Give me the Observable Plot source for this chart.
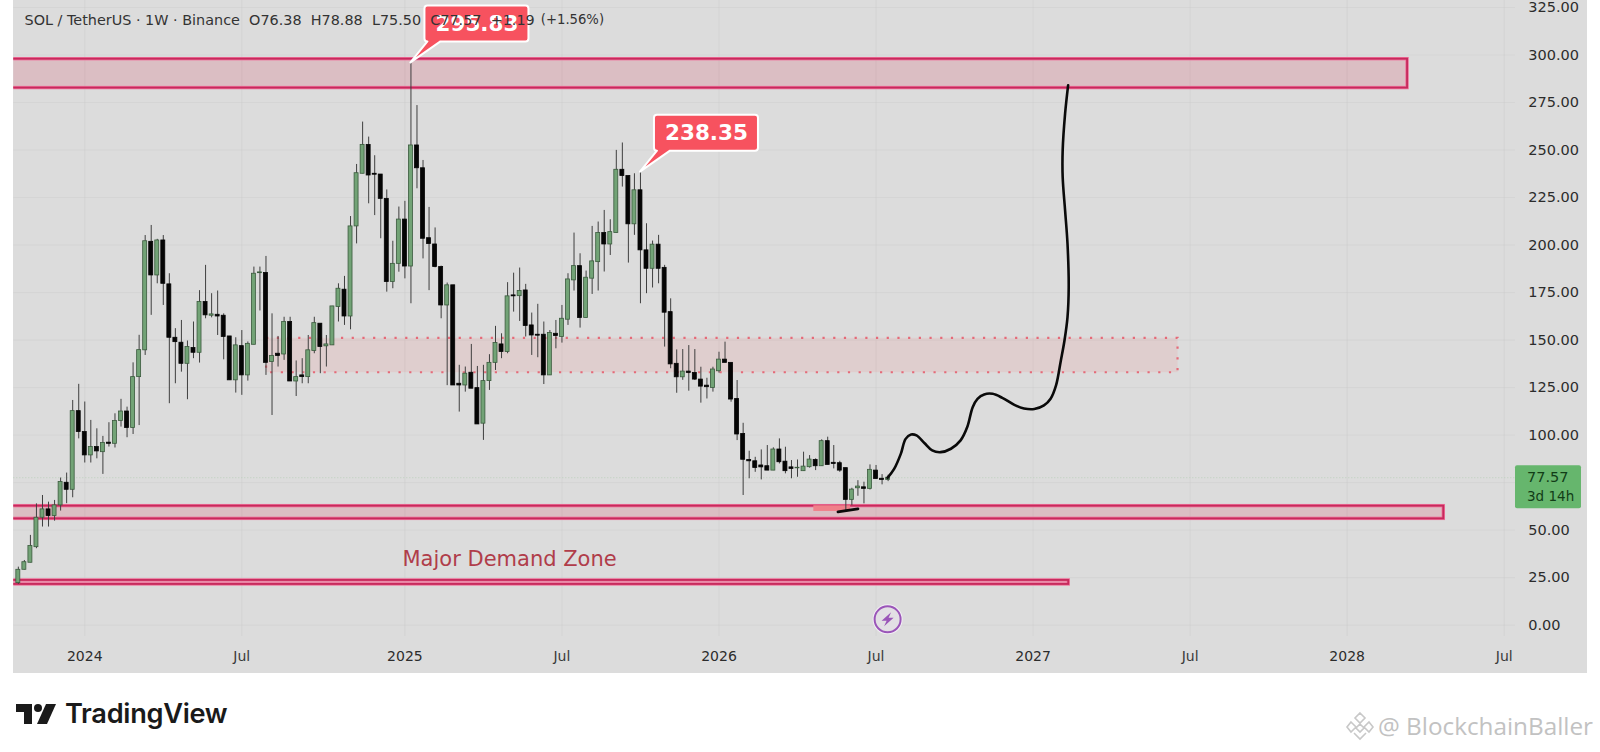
<!DOCTYPE html>
<html>
<head>
<meta charset="utf-8">
<script src="https://cdn.jsdelivr.net/npm/d3@7"></script>
<script src="https://cdn.jsdelivr.net/npm/@observablehq/plot@0.6"></script>
<style>
  html,body{margin:0;padding:0;background:#fff;overflow:hidden}
  #wrap{position:relative;width:1600px;height:752px;overflow:hidden}
  #panel{position:absolute;left:13.3px;top:0;width:1573.4px;height:673px;background:#dcdcdc}
  #chart{position:absolute;left:0;top:0}
  #brand{position:absolute;left:16px;top:697px;display:flex;align-items:center;gap:9px;font:600 27.2px Inter,sans-serif;color:#1a1a1a;letter-spacing:-.3px}
  #mark{position:absolute;left:1345px;top:709px;display:flex;align-items:center;gap:3px;font:24.3px "Open Sans",sans-serif;color:#c2c2c2;white-space:nowrap}
</style>
</head>
<body>
<div id="wrap">
  <div id="panel"></div>
  <div id="chart"></div>
  <div id="brand"><svg width="40" height="22" viewBox="0 0 40 22"><path d="M0 1h16v20H8V9H0z" fill="#1a1a1a"/><circle cx="22" cy="5" r="4" fill="#1a1a1a"/><path d="M30 1h10l-9 20H21z" fill="#1a1a1a"/></svg><span>TradingView</span></div>
  <div id="mark"><svg width="30" height="30" viewBox="0 0 30 30" fill="none" stroke="#c8c8c8" stroke-width="1.6"><path d="M15 2l5 5-5 5-5-5zM6 11l5 5-5 5-4-5zM24 11l4 5-4 5-5-5zM15 13l4 4-4 4-4-4zM9 22l6 6 6-6"/></svg><span>@ BlockchainBaller</span></div>
</div>
<script>
// Weekly candles, Monday bars; week 0 = 2024-01-01
const firstWeek = -11;
const candleOpen = [22.1,29.1,32.8,41,56.5,60.9,57.4,63,74.9,71.2,112.6,
101.6,89.3,93.7,91,96,95.4,107.4,112.4,103.7,130.5,144.6,201.7,184,202.4,179.3,151.2,148.6,137.5,145.8,143.3,170,162.8,163.3,162.8,151.9,128.8,146.8,131.4,147.5,185.2,185.3,138.4,142.8,142.4,159.5,128.2,131.4,130.5,144.2,158.6,146.7,147.2,167.4,176.5,162.4,209.8,237.5,252.7,237.5,237.1,224.3,180.5,190.1,213.4,188.7,252.4,240.4,203.6,200.3,188.4,168.2,178.8,127,126.1,132.8,124.7,106,128.4,138,147.7,143.7,173.5,173.1,176.1,157.7,152.8,152.8,131.4,153.3,151.6,160.7,181.4,188.9,161.6,182.3,191,206.3,200.3,206.3,239.6,236.3,210.9,228.8,197.2,187.5,200.2,188,164.7,137.5,130.4,133.4,132.7,129.2,126,124.8,133.6,139.7,138,119,100.6,86.9,86.2,84,83.6,81.3,92.4,86,83,82.5,81,83.1,86.9,83.6,96.8,85.4,85.2,82.6,65.9,72,72.5,71.7,81.3,77,76.38];
const candleHigh = [30.5,34,47.2,63.8,68.2,64.7,65.6,77.4,80,118.2,126.7,
117.4,107.7,103.3,99.3,106.5,111.2,118.8,114.7,138,152.5,205,210.3,203,205,184.9,156,160.3,149.5,159.5,176,189.3,174.4,175.8,163.8,151.9,151.2,155,149,188.4,188.4,194,163.8,151.9,162,162,139,140.2,152.4,162,158.6,152.4,167.7,179.6,183.5,215,242.4,264.7,256.8,247,237.1,229,202,220,223,295.83,273.4,244.5,219.8,209,188.9,180,178.8,136.7,135.8,147.7,136.1,136.7,142.3,157.2,153.3,180.2,185.2,187.9,179.3,164.2,168.8,159.5,155,160.3,168.2,184.9,206.3,195.4,186.3,209.8,212.1,218.2,213.3,249.8,253.7,236.3,237.5,238.35,211.2,202.1,205.1,189.3,171.7,144.8,145,147.1,145,135.7,129.9,135.7,143.6,148.9,138,128.7,106.2,91.5,88.3,92.2,94.5,93.3,98,93.6,86.6,86.9,91,89.2,87.5,97.5,98.9,94.5,86.2,82.6,72,76,75.2,84.3,84,79.2,78.88];
const candleLow = [21.4,29,32.8,40.2,51.6,51.6,54.7,60,63.9,67,98,
85.3,85.3,87.5,79.3,93.7,93.2,104.2,98.6,100.3,105,141.9,163,179.6,168.2,116.5,127,133.1,118.6,140.2,137.9,161.2,161.7,152.4,139.6,128.8,122.1,120.9,128.4,147.5,165.3,131.4,110.3,135.8,139.3,128.2,120.3,127,127,142.8,132.3,135.8,147.2,159.5,157.7,155.4,200.6,237.5,221.7,215.5,203.3,175.2,177,185.7,182.2,169.1,229.6,192.7,176,188,161.2,126,126.1,112.1,122.6,124.4,105.6,97.2,123.5,134,140.2,142.8,164.7,159.8,151.6,141.9,140.7,126.6,131.4,145.4,148.4,157.7,175.8,156.3,161.6,174,175.8,185.8,194.5,206.3,230.5,190.5,205.1,169.1,174.4,177.4,179.6,146.3,134.9,122,128.8,123.1,128.7,116.8,119,122.6,132.6,138,117.3,97.1,68.2,77,80.4,76.4,81.3,81.3,84.8,79.6,77,77.8,81,82.6,81.3,83.6,84.3,82.2,80.4,60.3,62.9,67.8,63.8,71.1,76.6,73.8,75.5];
const candleClose = [29.1,33.1,41.6,56.5,60.9,57.4,63,75.3,71.2,112.6,101.6,
89.3,93.7,91.4,95.8,95.4,107.4,112.4,103.7,130.5,144.7,202,184,202.4,179.6,151.2,148.9,137.5,146.3,143.3,170,163,163.5,162.4,151.6,128.8,147.2,131.4,148,184.9,185.6,138,141.6,141.6,159.5,128.2,130.5,130.5,144.6,158.9,146.3,147.7,167.7,177,162.4,209.8,237.8,252.7,236.6,237,224.3,180.5,190.1,213.4,188.7,252.4,240.4,203.3,200.5,188.4,168.2,178.8,126.1,126.1,132.3,124.4,105.6,128.4,138,148.4,143.7,173,173,175.8,157.4,152.4,152.3,131.4,153.7,152.1,161.2,181.9,188.9,161.6,182.8,191.4,206.3,200.3,206.8,239.6,236.3,210.9,228.8,197.2,187.5,200.2,187.5,164.4,137.2,130.4,133.4,132.7,129.2,125.5,125.2,134.5,139.7,138,118.7,100.3,87,86.2,82.7,83,81.3,92.4,85.7,81,82.2,82.8,83.4,87.1,83.6,96.8,84.3,84.8,81.3,65.9,71.3,72.9,71.7,81.7,76.9,76.4,77.57];

const yGrid = [0,25,50,75,100,125,150,175,200,225,250,275,300,325];
const yLabels = [0,25,50,100,125,150,175,200,225,250,275,300,325]; // 75.00 sits behind the price tag
const yearTickDates = ["2024-01-01","2025-01-06","2026-01-05","2027-01-04","2028-01-03"];
const julTickDates = ["2024-07-01","2025-07-07","2026-07-06","2027-07-05","2028-07-03"];

const zoneEndWeek = [219,225,162.9];
const zoneLow = [282.6,55.9,21.4];
const zoneHigh = [297.8,62.6,23.5];
const dottedZoneWeeks = [30.1,181];
const dottedZonePrices = [132.8,150.9];
const markerWeeks = [120.7,126.8];
const markerPrices = [59.8,62.8];
const scribbleWeeks = [124.7,128];
const scribblePrices = [59.6,61.2];

// Hand-drawn projection
const drawWeeks = [132.9,134,135.1,135.9,136.8,137.7,139,140.3,141.7,143.4,145,146.1,147,147.8,148.9,150.3,151.9,153.9,155.5,157.2,158.8,159.9,160.8,161.6,162.2,162.7,162.9,162.7,162.3,161.9,161.9,162.3,162.8];
const drawPrices = [77.5,82.2,90.1,98,100.3,99.8,95.8,91.9,91,92.8,97.2,104.2,114.7,119.1,121.4,121.7,119.6,115.9,114,113.7,115.6,119.1,126.1,139.3,149.8,162.1,177.9,200.7,218.2,235.8,249.8,269.1,284];

const calloutWeeks = [54,92];
const calloutPrices = [295.83,238.35];
const lastPrice = 77.57;
const countdown = "3d 14h";
const legendText = "SOL / TetherUS · 1W · Binance\u00a0\u00a0O76.38\u00a0\u00a0H78.88\u00a0\u00a0L75.50\u00a0\u00a0C77.57\u00a0\u00a0+1.19";
const legendChange = "(+1.56%)";
const demandLabel = "Major Demand Zone";
const demandWeek = 52.6, demandPrice = 34.5;
const boltWeek = 133, boltPrice = 2.8;

const week0 = Date.UTC(2024,0,1);
const weekDate = w => new Date(week0 + w*7*864e5);
const candles = candleOpen.map((o,i)=>({date:weekDate(firstWeek+i),o,h:candleHigh[i],l:candleLow[i],c:candleClose[i]}));
const up = candles.filter(d=>d.c>=d.o), down = candles.filter(d=>d.c<d.o);
const bodyHalf = 2.3*864e5;
const zones = zoneEndWeek.map((w,i)=>({x1:weekDate(-16),x2:weekDate(w),y1:zoneLow[i],y2:zoneHigh[i]}));
const draw = drawWeeks.map((w,i)=>({x:weekDate(w),y:drawPrices[i]}));
const callouts = calloutWeeks.map((w,i)=>({x:weekDate(w),y:calloutPrices[i],t:calloutPrices[i].toFixed(2)}));
const font = '"DejaVu Sans",sans-serif';

function calloutMark(_i, s){
  const g = d3.create("svg:g");
  for(const c of callouts){
    const px = s.x(c.x), py = s.y(c.y);
    const L=14,R=118,T=-57,B=-21,r=3;
    const d=`M${px},${py}L${px+30},${py+B}H${px+R-r}Q${px+R},${py+B} ${px+R},${py+B-r}V${py+T+r}Q${px+R},${py+T} ${px+R-r},${py+T}H${px+L+r}Q${px+L},${py+T} ${px+L},${py+T+r}V${py+B-r}Q${px+L},${py+B} ${px+L+r},${py+B}H${px+17}Z`;
    g.append("path").attr("d",d).attr("fill","#f7525f").attr("stroke","#fff").attr("stroke-width",2).attr("stroke-linejoin","round");
  }
  return g.node();
}
function tagMark(_i, s, _v, dim){
  const g = d3.create("svg:g").attr("text-anchor","start");
  const x0 = dim.width-dim.marginRight, y0=s.y(lastPrice);
  g.append("rect").attr("x",x0).attr("y",y0-12).attr("width",66).attr("height",43).attr("rx",2).attr("fill","#66b66d");
  g.append("text").attr("x",x0+12).attr("y",y0+5).text(lastPrice.toFixed(2)).attr("fill","#123d17").attr("font-size",14.5).attr("font-family",font);
  g.append("text").attr("x",x0+12).attr("y",y0+24).text(countdown).attr("fill","#123d17").attr("font-size",13.5).attr("font-family",font);
  return g.node();
}
function boltMark(_i, s){
  const px=s.x(weekDate(boltWeek)), py=s.y(boltPrice);
  const g=d3.create("svg:g").attr("transform",`translate(${px},${py})`);
  g.append("circle").attr("r",15).attr("fill","#f3edf6");
  g.append("circle").attr("r",13).attr("fill","#e2dfe4").attr("stroke","#9a55b8").attr("stroke-width",2);
  g.append("path").attr("d","M3.5,-7L-6,1.5L-1,1.5L-3.5,7L6,-1.5L1,-1.5Z").attr("fill","#9a55b8");
  return g.node();
}

const chart = Plot.plot({
  width:1600, height:752,
  marginLeft:13.3, marginRight:85, marginTop:0, marginBottom:116,
  style:{background:"transparent",fontFamily:font,overflow:"hidden"},
  x:{type:"utc",domain:[new Date("2023-10-10T18:00Z"),new Date("2028-07-16T02:00Z")],label:null},
  y:{domain:[0,325],range:[624.6,7],label:null},
  marks:[
    Plot.gridY(yGrid,{stroke:"#c9c9c9",strokeOpacity:.35}),
    Plot.gridX([...yearTickDates,...julTickDates].map(d=>new Date(d)),{stroke:"#c9c9c9",strokeOpacity:.4}),
    Plot.axisY({anchor:"right",ticks:yLabels,tickSize:0,tickPadding:12.7,tickFormat:d=>d.toFixed(2),fontSize:14.5,fill:"#2c2c2c",label:null,stroke:"#2c2c2c",strokeWidth:.3}),
    Plot.axisX({anchor:"bottom",ticks:yearTickDates.map(d=>new Date(d)),tickSize:0,tickPadding:15,tickFormat:d=>String(d.getUTCFullYear()),fontSize:14,fill:"#2c2c2c",stroke:"#2c2c2c",strokeWidth:.6,label:null}),
    Plot.axisX({anchor:"bottom",ticks:julTickDates.map(d=>new Date(d)),tickSize:0,tickPadding:15,tickFormat:()=>"Jul",fontSize:14,fill:"#3a3a3a",label:null}),
    Plot.ruleY([lastPrice],{stroke:"#bcd0bc",strokeDasharray:"1,2"}),
    Plot.rect(zones,{x1:"x1",x2:"x2",y1:"y1",y2:"y2",fill:"#d9455f",fillOpacity:.2,stroke:"#f0709a",strokeWidth:3.4,clip:"frame"}),
    Plot.rect(zones,{x1:"x1",x2:"x2",y1:"y1",y2:"y2",fill:"none",stroke:"#c62a5c",strokeWidth:1.8,clip:"frame"}),
    Plot.rect([0],{x1:()=>weekDate(dottedZoneWeeks[0]),x2:()=>weekDate(dottedZoneWeeks[1]),y1:()=>dottedZonePrices[0],y2:()=>dottedZonePrices[1],fill:"#ee7a7a",fillOpacity:.14,stroke:"#e56a78",strokeWidth:2.2,strokeDasharray:"2.2,8.5"}),
    Plot.rect([0],{x1:()=>weekDate(markerWeeks[0]),x2:()=>weekDate(markerWeeks[1]),y1:()=>markerPrices[0],y2:()=>markerPrices[1],fill:"#f0808a"}),
    Plot.ruleX(candles,{x:"date",y1:"l",y2:"h",stroke:"#3f3f3f",strokeWidth:1}),
    Plot.rect(up,{x1:d=>new Date(+d.date-bodyHalf),x2:d=>new Date(+d.date+bodyHalf),y1:"o",y2:"c",fill:"#72a376",stroke:"#3a5a3d",strokeWidth:.8}),
    Plot.rect(down,{x1:d=>new Date(+d.date-bodyHalf),x2:d=>new Date(+d.date+bodyHalf),y1:"o",y2:"c",fill:"#050505",stroke:"#050505",strokeWidth:.8}),
    Plot.line(scribbleWeeks.map((w,i)=>({x:weekDate(w),y:scribblePrices[i]})),{x:"x",y:"y",stroke:"#0a0a0a",strokeWidth:2.8,strokeLinecap:"round"}),
    Plot.line(draw,{x:"x",y:"y",curve:"catmull-rom",stroke:"#0a0a0a",strokeWidth:2.6,strokeLinecap:"round"}),
    calloutMark,
    Plot.text(callouts,{x:"x",y:"y",text:"t",dx:66,dy:-39,fill:"#fff",fontSize:21.5,fontWeight:"bold",fontFamily:font}),
    tagMark,
    Plot.text([demandLabel],{x:()=>weekDate(demandWeek),y:()=>demandPrice,text:d=>d,textAnchor:"start",fill:"#b03d4a",fontSize:21,fontFamily:font}),
    boltMark,
    Plot.text([legendText],{frameAnchor:"top-left",dx:10.7,dy:14,text:d=>d,textAnchor:"start",fill:"#333",fontSize:14.4,fontFamily:font}),
    Plot.text([legendChange],{frameAnchor:"top-left",dx:527,dy:14.5,text:d=>d,textAnchor:"start",fill:"#333",fontSize:13.2,fontFamily:font})
  ]
});
document.getElementById("chart").append(chart);
</script>
</body>
</html>
